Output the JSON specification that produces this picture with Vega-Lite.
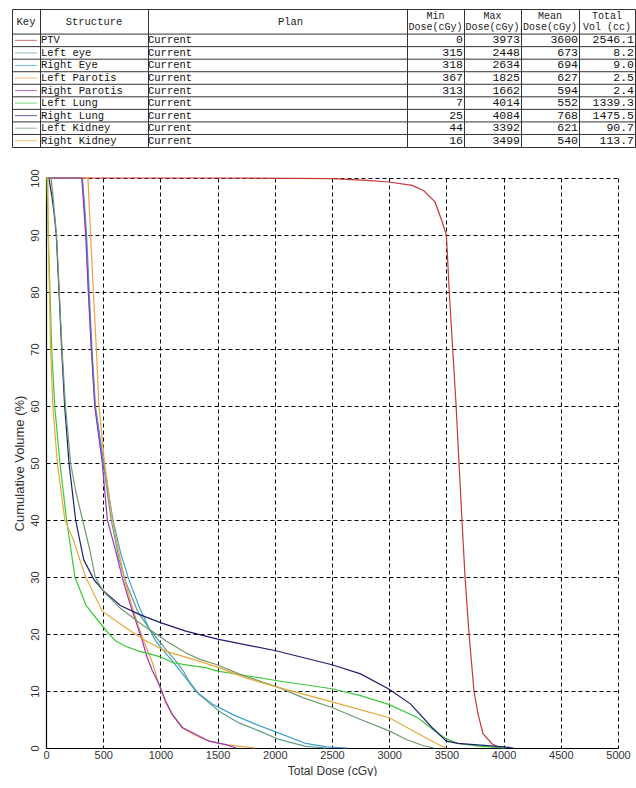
{
  "$schema": "https://vega.github.io/schema/vega-lite/v6.json",
  "padding": {"left": 11, "top": 8, "right": 0, "bottom": 0},
  "background": "white",
  "config": {
    "view": {"stroke": "#333", "strokeWidth": 1},
    "font": "Liberation Sans",
    "concat": {"spacing": 0}
  },
  "datasets": {
    "table": [
      {"structure": "PTV", "plan": "Current", "min": 0, "max": 3973, "mean": 3600, "total": 2546.1},
      {"structure": "Left eye", "plan": "Current", "min": 315, "max": 2448, "mean": 673, "total": 8.2},
      {"structure": "Right Eye", "plan": "Current", "min": 318, "max": 2634, "mean": 694, "total": 9.0},
      {"structure": "Left Parotis", "plan": "Current", "min": 367, "max": 1825, "mean": 627, "total": 2.5},
      {"structure": "Right Parotis", "plan": "Current", "min": 313, "max": 1662, "mean": 594, "total": 2.4},
      {"structure": "Left Lung", "plan": "Current", "min": 7, "max": 4014, "mean": 552, "total": 1339.3},
      {"structure": "Right Lung", "plan": "Current", "min": 25, "max": 4084, "mean": 768, "total": 1475.5},
      {"structure": "Left Kidney", "plan": "Current", "min": 44, "max": 3392, "mean": 621, "total": 90.7},
      {"structure": "Right Kidney", "plan": "Current", "min": 16, "max": 3499, "mean": 540, "total": 113.7}
    ],
    "headers": [
      {"col": "Key", "structure": "hdr1", "text": "Key"},
      {"col": "Structure", "structure": "hdr1", "text": "Structure"},
      {"col": "Plan", "structure": "hdr1", "text": "Plan"},
      {"col": "Min", "structure": "hdr1", "text": "Min\nDose(cGy)"},
      {"col": "Max", "structure": "hdr1", "text": "Max\nDose(cGy)"},
      {"col": "Mean", "structure": "hdr1", "text": "Mean\nDose(cGy)"},
      {"col": "Total", "structure": "hdr1", "text": "Total\nVol (cc)"}
    ],
    "dvh": [
      {"structure": "PTV", "dose": 0, "volume": 100},
      {"structure": "PTV", "dose": 500, "volume": 100},
      {"structure": "PTV", "dose": 1500, "volume": 100},
      {"structure": "PTV", "dose": 2500, "volume": 99.9},
      {"structure": "PTV", "dose": 2800, "volume": 99.6},
      {"structure": "PTV", "dose": 3000, "volume": 99.3},
      {"structure": "PTV", "dose": 3200, "volume": 98.7},
      {"structure": "PTV", "dose": 3300, "volume": 97.8},
      {"structure": "PTV", "dose": 3400, "volume": 95.8},
      {"structure": "PTV", "dose": 3460, "volume": 92.5},
      {"structure": "PTV", "dose": 3500, "volume": 90},
      {"structure": "PTV", "dose": 3525, "volume": 80},
      {"structure": "PTV", "dose": 3555, "volume": 70},
      {"structure": "PTV", "dose": 3585, "volume": 60},
      {"structure": "PTV", "dose": 3610, "volume": 50},
      {"structure": "PTV", "dose": 3636, "volume": 40},
      {"structure": "PTV", "dose": 3663, "volume": 30},
      {"structure": "PTV", "dose": 3698, "volume": 20},
      {"structure": "PTV", "dose": 3741, "volume": 10},
      {"structure": "PTV", "dose": 3776, "volume": 6},
      {"structure": "PTV", "dose": 3820, "volume": 2.5},
      {"structure": "PTV", "dose": 3900, "volume": 0.7},
      {"structure": "PTV", "dose": 3973, "volume": 0},

      {"structure": "Left eye", "dose": 0, "volume": 100},
      {"structure": "Left eye", "dose": 315, "volume": 100},
      {"structure": "Left eye", "dose": 335, "volume": 95},
      {"structure": "Left eye", "dose": 350, "volume": 90},
      {"structure": "Left eye", "dose": 372, "volume": 80},
      {"structure": "Left eye", "dose": 398, "volume": 70},
      {"structure": "Left eye", "dose": 428, "volume": 60},
      {"structure": "Left eye", "dose": 500, "volume": 50},
      {"structure": "Left eye", "dose": 570, "volume": 40},
      {"structure": "Left eye", "dose": 640, "volume": 33},
      {"structure": "Left eye", "dose": 700, "volume": 29},
      {"structure": "Left eye", "dose": 800, "volume": 24},
      {"structure": "Left eye", "dose": 900, "volume": 21},
      {"structure": "Left eye", "dose": 988, "volume": 18.8},
      {"structure": "Left eye", "dose": 1060, "volume": 17},
      {"structure": "Left eye", "dose": 1134, "volume": 15.3},
      {"structure": "Left eye", "dose": 1200, "volume": 13.5},
      {"structure": "Left eye", "dose": 1250, "volume": 11.75},
      {"structure": "Left eye", "dose": 1337, "volume": 9.4},
      {"structure": "Left eye", "dose": 1420, "volume": 8},
      {"structure": "Left eye", "dose": 1512, "volume": 6.5},
      {"structure": "Left eye", "dose": 1600, "volume": 5.4},
      {"structure": "Left eye", "dose": 1687, "volume": 4.4},
      {"structure": "Left eye", "dose": 1862, "volume": 3},
      {"structure": "Left eye", "dose": 2037, "volume": 1.5},
      {"structure": "Left eye", "dose": 2270, "volume": 0.3},
      {"structure": "Left eye", "dose": 2448, "volume": 0},

      {"structure": "Right Eye", "dose": 0, "volume": 100},
      {"structure": "Right Eye", "dose": 318, "volume": 100},
      {"structure": "Right Eye", "dose": 338, "volume": 95},
      {"structure": "Right Eye", "dose": 355, "volume": 90},
      {"structure": "Right Eye", "dose": 378, "volume": 80},
      {"structure": "Right Eye", "dose": 402, "volume": 70},
      {"structure": "Right Eye", "dose": 432, "volume": 60},
      {"structure": "Right Eye", "dose": 505, "volume": 50},
      {"structure": "Right Eye", "dose": 585, "volume": 40},
      {"structure": "Right Eye", "dose": 655, "volume": 34},
      {"structure": "Right Eye", "dose": 725, "volume": 29.5},
      {"structure": "Right Eye", "dose": 820, "volume": 24.5},
      {"structure": "Right Eye", "dose": 900, "volume": 21},
      {"structure": "Right Eye", "dose": 959, "volume": 18.8},
      {"structure": "Right Eye", "dose": 1030, "volume": 17},
      {"structure": "Right Eye", "dose": 1104, "volume": 15.3},
      {"structure": "Right Eye", "dose": 1221, "volume": 12.3},
      {"structure": "Right Eye", "dose": 1308, "volume": 10},
      {"structure": "Right Eye", "dose": 1454, "volume": 7.7},
      {"structure": "Right Eye", "dose": 1629, "volume": 5.9},
      {"structure": "Right Eye", "dose": 1804, "volume": 4.4},
      {"structure": "Right Eye", "dose": 2037, "volume": 2.6},
      {"structure": "Right Eye", "dose": 2270, "volume": 0.8},
      {"structure": "Right Eye", "dose": 2450, "volume": 0.2},
      {"structure": "Right Eye", "dose": 2634, "volume": 0},

      {"structure": "Left Parotis", "dose": 0, "volume": 100},
      {"structure": "Left Parotis", "dose": 367, "volume": 100},
      {"structure": "Left Parotis", "dose": 378, "volume": 95},
      {"structure": "Left Parotis", "dose": 390, "volume": 90},
      {"structure": "Left Parotis", "dose": 414, "volume": 80},
      {"structure": "Left Parotis", "dose": 440, "volume": 70},
      {"structure": "Left Parotis", "dose": 463, "volume": 60},
      {"structure": "Left Parotis", "dose": 512, "volume": 50},
      {"structure": "Left Parotis", "dose": 580, "volume": 40},
      {"structure": "Left Parotis", "dose": 640, "volume": 34},
      {"structure": "Left Parotis", "dose": 695, "volume": 29},
      {"structure": "Left Parotis", "dose": 750, "volume": 25},
      {"structure": "Left Parotis", "dose": 805, "volume": 21.5},
      {"structure": "Left Parotis", "dose": 860, "volume": 18.5},
      {"structure": "Left Parotis", "dose": 930, "volume": 15},
      {"structure": "Left Parotis", "dose": 990, "volume": 11},
      {"structure": "Left Parotis", "dose": 1046, "volume": 8},
      {"structure": "Left Parotis", "dose": 1104, "volume": 5.8},
      {"structure": "Left Parotis", "dose": 1192, "volume": 3.5},
      {"structure": "Left Parotis", "dose": 1308, "volume": 2.2},
      {"structure": "Left Parotis", "dose": 1425, "volume": 1.2},
      {"structure": "Left Parotis", "dose": 1571, "volume": 0.6},
      {"structure": "Left Parotis", "dose": 1700, "volume": 0.3},
      {"structure": "Left Parotis", "dose": 1825, "volume": 0},

      {"structure": "Right Parotis", "dose": 0, "volume": 100},
      {"structure": "Right Parotis", "dose": 313, "volume": 100},
      {"structure": "Right Parotis", "dose": 330, "volume": 95},
      {"structure": "Right Parotis", "dose": 347, "volume": 90},
      {"structure": "Right Parotis", "dose": 370, "volume": 80},
      {"structure": "Right Parotis", "dose": 396, "volume": 70},
      {"structure": "Right Parotis", "dose": 426, "volume": 60},
      {"structure": "Right Parotis", "dose": 492, "volume": 50},
      {"structure": "Right Parotis", "dose": 536, "volume": 40},
      {"structure": "Right Parotis", "dose": 609, "volume": 34.6},
      {"structure": "Right Parotis", "dose": 667, "volume": 29.9},
      {"structure": "Right Parotis", "dose": 726, "volume": 25.8},
      {"structure": "Right Parotis", "dose": 784, "volume": 22.3},
      {"structure": "Right Parotis", "dose": 842, "volume": 18.8},
      {"structure": "Right Parotis", "dose": 886, "volume": 15.8},
      {"structure": "Right Parotis", "dose": 929, "volume": 13.6},
      {"structure": "Right Parotis", "dose": 988, "volume": 11.2},
      {"structure": "Right Parotis", "dose": 1046, "volume": 8.2},
      {"structure": "Right Parotis", "dose": 1104, "volume": 5.9},
      {"structure": "Right Parotis", "dose": 1192, "volume": 3.6},
      {"structure": "Right Parotis", "dose": 1308, "volume": 2.4},
      {"structure": "Right Parotis", "dose": 1425, "volume": 1.2},
      {"structure": "Right Parotis", "dose": 1571, "volume": 0.6},
      {"structure": "Right Parotis", "dose": 1662, "volume": 0},

      {"structure": "Left Lung", "dose": 0, "volume": 100},
      {"structure": "Left Lung", "dose": 7, "volume": 100},
      {"structure": "Left Lung", "dose": 20, "volume": 90},
      {"structure": "Left Lung", "dose": 35, "volume": 80},
      {"structure": "Left Lung", "dose": 50, "volume": 70},
      {"structure": "Left Lung", "dose": 76, "volume": 60},
      {"structure": "Left Lung", "dose": 122, "volume": 50},
      {"structure": "Left Lung", "dose": 180, "volume": 40},
      {"structure": "Left Lung", "dose": 253, "volume": 30},
      {"structure": "Left Lung", "dose": 350, "volume": 25},
      {"structure": "Left Lung", "dose": 450, "volume": 22.5},
      {"structure": "Left Lung", "dose": 551, "volume": 20},
      {"structure": "Left Lung", "dose": 609, "volume": 18.8},
      {"structure": "Left Lung", "dose": 700, "volume": 17.8},
      {"structure": "Left Lung", "dose": 813, "volume": 17},
      {"structure": "Left Lung", "dose": 1000, "volume": 16},
      {"structure": "Left Lung", "dose": 1104, "volume": 15},
      {"structure": "Left Lung", "dose": 1250, "volume": 14.5},
      {"structure": "Left Lung", "dose": 1396, "volume": 14.1},
      {"structure": "Left Lung", "dose": 1500, "volume": 13.5},
      {"structure": "Left Lung", "dose": 1687, "volume": 12.9},
      {"structure": "Left Lung", "dose": 2037, "volume": 11.75},
      {"structure": "Left Lung", "dose": 2500, "volume": 10.4},
      {"structure": "Left Lung", "dose": 2750, "volume": 9.2},
      {"structure": "Left Lung", "dose": 3000, "volume": 7.6},
      {"structure": "Left Lung", "dose": 3250, "volume": 5.3},
      {"structure": "Left Lung", "dose": 3400, "volume": 3},
      {"structure": "Left Lung", "dose": 3500, "volume": 1.6},
      {"structure": "Left Lung", "dose": 3600, "volume": 0.8},
      {"structure": "Left Lung", "dose": 3800, "volume": 0.3},
      {"structure": "Left Lung", "dose": 4014, "volume": 0},

      {"structure": "Right Lung", "dose": 0, "volume": 100},
      {"structure": "Right Lung", "dose": 25, "volume": 100},
      {"structure": "Right Lung", "dose": 50, "volume": 97},
      {"structure": "Right Lung", "dose": 70, "volume": 94},
      {"structure": "Right Lung", "dose": 90, "volume": 90},
      {"structure": "Right Lung", "dose": 114, "volume": 80},
      {"structure": "Right Lung", "dose": 137, "volume": 70},
      {"structure": "Right Lung", "dose": 163, "volume": 60},
      {"structure": "Right Lung", "dose": 201, "volume": 50},
      {"structure": "Right Lung", "dose": 259, "volume": 40},
      {"structure": "Right Lung", "dose": 330, "volume": 33},
      {"structure": "Right Lung", "dose": 420, "volume": 29.5},
      {"structure": "Right Lung", "dose": 500, "volume": 27.6},
      {"structure": "Right Lung", "dose": 650, "volume": 25},
      {"structure": "Right Lung", "dose": 819, "volume": 23.4},
      {"structure": "Right Lung", "dose": 1000, "volume": 22},
      {"structure": "Right Lung", "dose": 1222, "volume": 20.5},
      {"structure": "Right Lung", "dose": 1500, "volume": 19.1},
      {"structure": "Right Lung", "dose": 2000, "volume": 17.1},
      {"structure": "Right Lung", "dose": 2500, "volume": 14.6},
      {"structure": "Right Lung", "dose": 2750, "volume": 13},
      {"structure": "Right Lung", "dose": 3000, "volume": 10.3},
      {"structure": "Right Lung", "dose": 3188, "volume": 7.7},
      {"structure": "Right Lung", "dose": 3374, "volume": 3.6},
      {"structure": "Right Lung", "dose": 3500, "volume": 1.2},
      {"structure": "Right Lung", "dose": 3600, "volume": 0.8},
      {"structure": "Right Lung", "dose": 3800, "volume": 0.5},
      {"structure": "Right Lung", "dose": 4000, "volume": 0.2},
      {"structure": "Right Lung", "dose": 4084, "volume": 0},

      {"structure": "Left Kidney", "dose": 0, "volume": 100},
      {"structure": "Left Kidney", "dose": 44, "volume": 100},
      {"structure": "Left Kidney", "dose": 60, "volume": 97},
      {"structure": "Left Kidney", "dose": 92, "volume": 90},
      {"structure": "Left Kidney", "dose": 116, "volume": 80},
      {"structure": "Left Kidney", "dose": 140, "volume": 70},
      {"structure": "Left Kidney", "dose": 170, "volume": 60},
      {"structure": "Left Kidney", "dose": 215, "volume": 50},
      {"structure": "Left Kidney", "dose": 260, "volume": 45},
      {"structure": "Left Kidney", "dose": 320, "volume": 40},
      {"structure": "Left Kidney", "dose": 380, "volume": 35},
      {"structure": "Left Kidney", "dose": 430, "volume": 30},
      {"structure": "Left Kidney", "dose": 500, "volume": 27.5},
      {"structure": "Left Kidney", "dose": 650, "volume": 24.5},
      {"structure": "Left Kidney", "dose": 850, "volume": 21.5},
      {"structure": "Left Kidney", "dose": 1000, "volume": 19.5},
      {"structure": "Left Kidney", "dose": 1046, "volume": 18.8},
      {"structure": "Left Kidney", "dose": 1221, "volume": 16.7},
      {"structure": "Left Kidney", "dose": 1350, "volume": 15.5},
      {"structure": "Left Kidney", "dose": 1483, "volume": 14.7},
      {"structure": "Left Kidney", "dose": 1687, "volume": 13},
      {"structure": "Left Kidney", "dose": 2037, "volume": 10.6},
      {"structure": "Left Kidney", "dose": 2250, "volume": 8.8},
      {"structure": "Left Kidney", "dose": 2500, "volume": 7.1},
      {"structure": "Left Kidney", "dose": 2750, "volume": 5},
      {"structure": "Left Kidney", "dose": 3000, "volume": 3},
      {"structure": "Left Kidney", "dose": 3150, "volume": 1.5},
      {"structure": "Left Kidney", "dose": 3300, "volume": 0.4},
      {"structure": "Left Kidney", "dose": 3392, "volume": 0},

      {"structure": "Right Kidney", "dose": 0, "volume": 100},
      {"structure": "Right Kidney", "dose": 16, "volume": 100},
      {"structure": "Right Kidney", "dose": 20, "volume": 90},
      {"structure": "Right Kidney", "dose": 30, "volume": 80},
      {"structure": "Right Kidney", "dose": 40, "volume": 70},
      {"structure": "Right Kidney", "dose": 60, "volume": 60},
      {"structure": "Right Kidney", "dose": 99, "volume": 50},
      {"structure": "Right Kidney", "dose": 165, "volume": 40},
      {"structure": "Right Kidney", "dose": 230, "volume": 37},
      {"structure": "Right Kidney", "dose": 347, "volume": 30},
      {"structure": "Right Kidney", "dose": 492, "volume": 24},
      {"structure": "Right Kidney", "dose": 697, "volume": 21.1},
      {"structure": "Right Kidney", "dose": 871, "volume": 18.8},
      {"structure": "Right Kidney", "dose": 1046, "volume": 17},
      {"structure": "Right Kidney", "dose": 1279, "volume": 15.6},
      {"structure": "Right Kidney", "dose": 1512, "volume": 14.1},
      {"structure": "Right Kidney", "dose": 1746, "volume": 12.3},
      {"structure": "Right Kidney", "dose": 2037, "volume": 10.6},
      {"structure": "Right Kidney", "dose": 2500, "volume": 8.1},
      {"structure": "Right Kidney", "dose": 3000, "volume": 5.3},
      {"structure": "Right Kidney", "dose": 3320, "volume": 1.8},
      {"structure": "Right Kidney", "dose": 3450, "volume": 0.4},
      {"structure": "Right Kidney", "dose": 3499, "volume": 0}
    ]
  },
  "vconcat": [
    {
      "hconcat": [
        {
          "width": 28, "height": 138,
          "encoding": {"y": {"field": "structure", "type": "nominal", "scale": {"domain": ["hdr1","hdr2","PTV","Left eye","Right Eye","Left Parotis","Right Parotis","Left Lung","Right Lung","Left Kidney","Right Kidney"], "paddingInner": 0, "paddingOuter": 0}, "axis": null}},
          "layer": [
            {"data": {"name": "headers"}, "transform": [{"filter": "datum.col == 'Key'"}], "mark": {"type": "text", "font": "Liberation Mono", "fontSize": 10.5, "baseline": "middle", "color": "#222"}, "encoding": {"y": {"field": "structure", "type": "nominal", "bandPosition": 1}, "text": {"field": "text"}}},
            {"data": {"name": "table"}, "mark": {"type": "rule", "color": "#333", "strokeWidth": 1}, "encoding": {"y": {"field": "structure", "type": "nominal", "bandPosition": 0}}},
            {"data": {"name": "table"}, "mark": {"type": "tick", "orient": "horizontal", "size": 22, "thickness": 1}, "encoding": {"color": {"field": "structure", "type": "nominal", "scale": {"domain": ["PTV","Left eye","Right Eye","Left Parotis","Right Parotis","Left Lung","Right Lung","Left Kidney","Right Kidney"], "range": ["#c8373a","#5e9e86","#3aa0d0","#f0a040","#9b35b8","#3cc83c","#1e1e70","#6e9a6e","#e8a838"]}, "legend": null}}}
          ]
        },
        {
          "width": 108, "height": 138,
          "encoding": {"y": {"field": "structure", "type": "nominal", "scale": {"domain": ["hdr1","hdr2","PTV","Left eye","Right Eye","Left Parotis","Right Parotis","Left Lung","Right Lung","Left Kidney","Right Kidney"], "paddingInner": 0, "paddingOuter": 0}, "axis": null}},
          "layer": [
            {"data": {"name": "headers"}, "transform": [{"filter": "datum.col == 'Structure'"}], "mark": {"type": "text", "font": "Liberation Mono", "fontSize": 10.5, "baseline": "middle", "color": "#222"}, "encoding": {"y": {"field": "structure", "type": "nominal", "bandPosition": 1}, "text": {"field": "text"}}},
            {"data": {"name": "table"}, "mark": {"type": "rule", "color": "#333", "strokeWidth": 1}, "encoding": {"y": {"field": "structure", "type": "nominal", "bandPosition": 0}}},
            {"data": {"name": "table"}, "mark": {"type": "text", "font": "Liberation Mono", "fontSize": 10.5, "align": "left", "baseline": "middle", "x": 0, "dx": 1, "color": "#111"}, "encoding": {"text": {"field": "structure"}}}
          ]
        },
        {
          "width": 259, "height": 138,
          "encoding": {"y": {"field": "structure", "type": "nominal", "scale": {"domain": ["hdr1","hdr2","PTV","Left eye","Right Eye","Left Parotis","Right Parotis","Left Lung","Right Lung","Left Kidney","Right Kidney"], "paddingInner": 0, "paddingOuter": 0}, "axis": null}},
          "layer": [
            {"data": {"name": "headers"}, "transform": [{"filter": "datum.col == 'Plan'"}], "mark": {"type": "text", "font": "Liberation Mono", "fontSize": 10.5, "baseline": "middle", "dx": 13, "color": "#222"}, "encoding": {"y": {"field": "structure", "type": "nominal", "bandPosition": 1}, "text": {"field": "text"}}},
            {"data": {"name": "table"}, "mark": {"type": "rule", "color": "#333", "strokeWidth": 1}, "encoding": {"y": {"field": "structure", "type": "nominal", "bandPosition": 0}}},
            {"data": {"name": "table"}, "mark": {"type": "text", "font": "Liberation Mono", "fontSize": 10.5, "align": "left", "baseline": "middle", "x": 0, "dx": 0, "color": "#111"}, "encoding": {"text": {"field": "plan"}}}
          ]
        },
        {
          "width": 57, "height": 138,
          "encoding": {"y": {"field": "structure", "type": "nominal", "scale": {"domain": ["hdr1","hdr2","PTV","Left eye","Right Eye","Left Parotis","Right Parotis","Left Lung","Right Lung","Left Kidney","Right Kidney"], "paddingInner": 0, "paddingOuter": 0}, "axis": null}},
          "layer": [
            {"data": {"name": "headers"}, "transform": [{"filter": "datum.col == 'Min'"}], "mark": {"type": "text", "font": "Liberation Mono", "fontSize": 10, "lineBreak": "\n", "lineHeight": 11, "baseline": "middle", "dy": -5.5, "color": "#222"}, "encoding": {"y": {"field": "structure", "type": "nominal", "bandPosition": 1}, "text": {"field": "text"}}},
            {"data": {"name": "table"}, "mark": {"type": "rule", "color": "#333", "strokeWidth": 1}, "encoding": {"y": {"field": "structure", "type": "nominal", "bandPosition": 0}}},
            {"data": {"name": "table"}, "mark": {"type": "text", "font": "Liberation Mono", "fontSize": 11.5, "align": "right", "baseline": "middle", "x": "width", "dx": -1, "color": "#111"}, "encoding": {"text": {"field": "min"}}}
          ]
        },
        {
          "width": 57, "height": 138,
          "encoding": {"y": {"field": "structure", "type": "nominal", "scale": {"domain": ["hdr1","hdr2","PTV","Left eye","Right Eye","Left Parotis","Right Parotis","Left Lung","Right Lung","Left Kidney","Right Kidney"], "paddingInner": 0, "paddingOuter": 0}, "axis": null}},
          "layer": [
            {"data": {"name": "headers"}, "transform": [{"filter": "datum.col == 'Max'"}], "mark": {"type": "text", "font": "Liberation Mono", "fontSize": 10, "lineBreak": "\n", "lineHeight": 11, "baseline": "middle", "dy": -5.5, "color": "#222"}, "encoding": {"y": {"field": "structure", "type": "nominal", "bandPosition": 1}, "text": {"field": "text"}}},
            {"data": {"name": "table"}, "mark": {"type": "rule", "color": "#333", "strokeWidth": 1}, "encoding": {"y": {"field": "structure", "type": "nominal", "bandPosition": 0}}},
            {"data": {"name": "table"}, "mark": {"type": "text", "font": "Liberation Mono", "fontSize": 11.5, "align": "right", "baseline": "middle", "x": "width", "dx": -1, "color": "#111"}, "encoding": {"text": {"field": "max"}}}
          ]
        },
        {
          "width": 58, "height": 138,
          "encoding": {"y": {"field": "structure", "type": "nominal", "scale": {"domain": ["hdr1","hdr2","PTV","Left eye","Right Eye","Left Parotis","Right Parotis","Left Lung","Right Lung","Left Kidney","Right Kidney"], "paddingInner": 0, "paddingOuter": 0}, "axis": null}},
          "layer": [
            {"data": {"name": "headers"}, "transform": [{"filter": "datum.col == 'Mean'"}], "mark": {"type": "text", "font": "Liberation Mono", "fontSize": 10, "lineBreak": "\n", "lineHeight": 11, "baseline": "middle", "dy": -5.5, "color": "#222"}, "encoding": {"y": {"field": "structure", "type": "nominal", "bandPosition": 1}, "text": {"field": "text"}}},
            {"data": {"name": "table"}, "mark": {"type": "rule", "color": "#333", "strokeWidth": 1}, "encoding": {"y": {"field": "structure", "type": "nominal", "bandPosition": 0}}},
            {"data": {"name": "table"}, "mark": {"type": "text", "font": "Liberation Mono", "fontSize": 11.5, "align": "right", "baseline": "middle", "x": "width", "dx": -1, "color": "#111"}, "encoding": {"text": {"field": "mean"}}}
          ]
        },
        {
          "width": 56, "height": 138,
          "encoding": {"y": {"field": "structure", "type": "nominal", "scale": {"domain": ["hdr1","hdr2","PTV","Left eye","Right Eye","Left Parotis","Right Parotis","Left Lung","Right Lung","Left Kidney","Right Kidney"], "paddingInner": 0, "paddingOuter": 0}, "axis": null}},
          "layer": [
            {"data": {"name": "headers"}, "transform": [{"filter": "datum.col == 'Total'"}], "mark": {"type": "text", "font": "Liberation Mono", "fontSize": 10, "lineBreak": "\n", "lineHeight": 11, "baseline": "middle", "dy": -5.5, "color": "#222"}, "encoding": {"y": {"field": "structure", "type": "nominal", "bandPosition": 1}, "text": {"field": "text"}}},
            {"data": {"name": "table"}, "mark": {"type": "rule", "color": "#333", "strokeWidth": 1}, "encoding": {"y": {"field": "structure", "type": "nominal", "bandPosition": 0}}},
            {"data": {"name": "table"}, "mark": {"type": "text", "font": "Liberation Mono", "fontSize": 11.5, "align": "right", "baseline": "middle", "x": "width", "dx": -1, "color": "#111"}, "encoding": {"text": {"field": "total", "format": ".1f"}}}
          ]
        }
      ],
      "spacing": 0,
      "bounds": "flush"
    },
    {
      "hconcat": [
        {
          "width": 1, "height": 570,
          "view": {"stroke": null},
          "data": {"values": []},
          "mark": "point"
        },
        {
          "width": 572, "height": 570,
          "view": {"stroke": null},
          "data": {"name": "dvh"},
          "mark": {"type": "line", "strokeWidth": 1.2},
          "encoding": {
            "x": {"field": "dose", "type": "quantitative", "scale": {"domain": [0, 5000], "nice": false},
                  "axis": {"values": [0,500,1000,1500,2000,2500,3000,3500,4000,4500,5000], "format": "d", "grid": true, "gridDash": [4,3], "gridColor": "#000", "gridOpacity": 1, "ticks": false, "domainColor": "#000", "domainWidth": 1.2, "labelFont": "Liberation Sans", "labelFontSize": 11, "labelColor": "#333", "labelPadding": 1, "labelFlush": false, "title": "Total Dose (cGy)", "titleFont": "Liberation Sans", "titleFontWeight": "normal", "titleFontSize": 12, "titleColor": "#333", "titlePadding": 5}},
            "y": {"field": "volume", "type": "quantitative", "scale": {"domain": [0, 100], "nice": false},
                  "axis": {"values": [0,10,20,30,40,50,60,70,80,90,100], "grid": true, "gridDash": [4,3], "gridColor": "#000", "gridOpacity": 1, "ticks": false, "domainColor": "#000", "domainWidth": 1.2, "labelFont": "Liberation Sans", "labelFontSize": 11, "labelColor": "#333", "labelAngle": -90, "labelAlign": "center", "labelBaseline": "bottom", "labelPadding": 6, "labelFlush": false, "title": "Cumulative Volume (%)", "titleFont": "Liberation Sans", "titleFontWeight": "normal", "titleFontSize": 13, "titleColor": "#333", "titlePadding": 3}},
            "color": {"field": "structure", "type": "nominal", "scale": {"domain": ["PTV","Left eye","Right Eye","Left Parotis","Right Parotis","Left Lung","Right Lung","Left Kidney","Right Kidney"], "range": ["#c8373a","#5e9e86","#3aa0d0","#f0a040","#9b35b8","#3cc83c","#1e1e70","#6e9a6e","#e8a838"]}, "legend": null}
          }
        }
      ],
      "spacing": 0
    }
  ],
  "spacing": 20
}
